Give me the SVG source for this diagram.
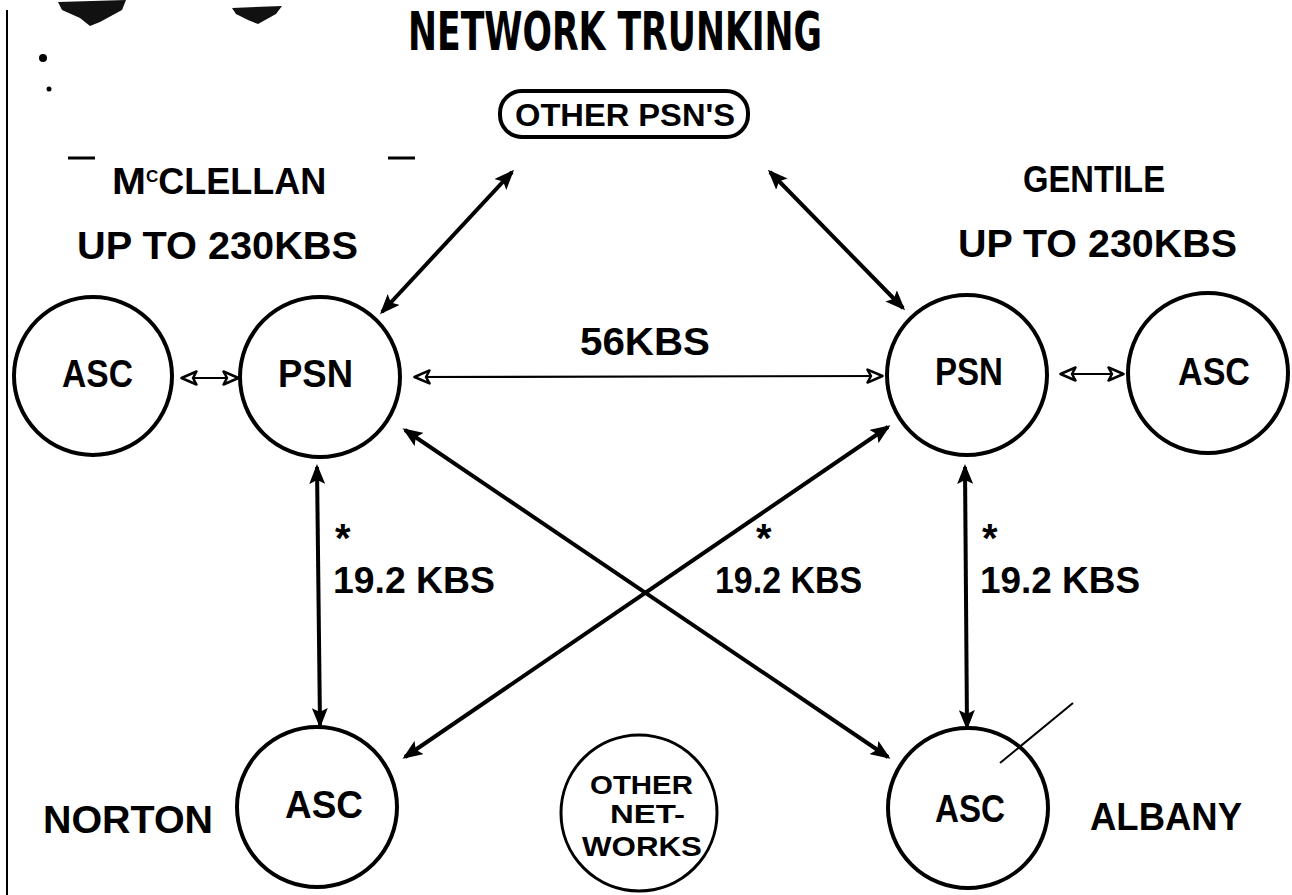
<svg xmlns="http://www.w3.org/2000/svg" width="1292" height="895" viewBox="0 0 1292 895">
<defs>
<marker id="ah" viewBox="0 0 20 16" refX="17" refY="8" markerWidth="20" markerHeight="16" markerUnits="userSpaceOnUse" orient="auto-start-reverse">
<path d="M0,0 L20,8 L0,16 L4,8 z" fill="#000"/>
</marker>
<marker id="oh" viewBox="0 0 18 16" refX="16" refY="8" markerWidth="18" markerHeight="16" markerUnits="userSpaceOnUse" orient="auto-start-reverse">
<path d="M1.5,1.5 L16.5,8 L1.5,14.5 L5,8 z" fill="#fff" stroke="#000" stroke-width="2.5" stroke-linejoin="round"/>
</marker>
<style>
.t{font-family:"Liberation Sans",Arial,sans-serif;font-weight:bold;fill:#000}
.n{fill:none;stroke:#000;stroke-width:4}
.thick{fill:none;stroke:#000;stroke-width:4;marker-start:url(#ah);marker-end:url(#ah)}
.thin{fill:none;stroke:#000;stroke-width:2.2;marker-start:url(#oh);marker-end:url(#oh)}
</style>
</defs>
<rect width="1292" height="895" fill="#fff"/>
<g id="artifacts">
<line x1="7" y1="10" x2="7" y2="895" stroke="#000" stroke-width="2"/>
<path d="M58,2 L126,0 L122,10 L100,22 L90,26 L80,18 L62,10 z" fill="#111"/>
<path d="M232,8 L282,6 L276,14 L258,24 L248,20 L236,14 z" fill="#111"/>
<circle cx="43" cy="58" r="4" fill="#000"/>
<circle cx="49" cy="89" r="2.5" fill="#000"/>
<line x1="68" y1="158" x2="95" y2="158" stroke="#000" stroke-width="3"/>
<line x1="388" y1="158" x2="415" y2="158" stroke="#000" stroke-width="3"/>
<line x1="1000" y1="763" x2="1073" y2="703" stroke="#000" stroke-width="2"/>
</g>
<g id="title">
<text x="408" y="50" font-size="53" font-weight="bold" fill="#000" textLength="414" lengthAdjust="spacingAndGlyphs" style="font-family:'Liberation Sans Narrow','DejaVu Sans Condensed',sans-serif">NETWORK TRUNKING</text>
</g>
<g id="labels">
<text class="t" x="112" y="194" font-size="37"><tspan textLength="34" lengthAdjust="spacingAndGlyphs">M</tspan><tspan font-size="17" dy="-12">C</tspan><tspan dy="12" textLength="168" lengthAdjust="spacingAndGlyphs">CLELLAN</tspan></text>
<text class="t" x="77" y="259" font-size="38" textLength="281" lengthAdjust="spacingAndGlyphs">UP TO 230KBS</text>
<text class="t" x="1023" y="192" font-size="36" textLength="142" lengthAdjust="spacingAndGlyphs">GENTILE</text>
<text class="t" x="958" y="257" font-size="38" textLength="279" lengthAdjust="spacingAndGlyphs">UP TO 230KBS</text>
<text class="t" x="580" y="355" font-size="38" textLength="130" lengthAdjust="spacingAndGlyphs">56KBS</text>
<text class="t" x="335" y="552" font-size="40">*</text>
<text class="t" x="756" y="552" font-size="40">*</text>
<text class="t" x="982" y="552" font-size="40">*</text>
<text class="t" x="333" y="593" font-size="36" textLength="162" lengthAdjust="spacingAndGlyphs">19.2  KBS</text>
<text class="t" x="715" y="593" font-size="36" textLength="147" lengthAdjust="spacingAndGlyphs">19.2 KBS</text>
<text class="t" x="980" y="593" font-size="36" textLength="160" lengthAdjust="spacingAndGlyphs">19.2 KBS</text>
<text class="t" x="43" y="833" font-size="38" textLength="170" lengthAdjust="spacingAndGlyphs">NORTON</text>
<text class="t" x="1090" y="830" font-size="38" textLength="152" lengthAdjust="spacingAndGlyphs">ALBANY</text>
</g>
<g id="connectors">
<line class="thick" x1="512" y1="172" x2="382" y2="312"/>
<line class="thick" x1="770" y1="172" x2="903" y2="308"/>
<line class="thin" x1="415" y1="377" x2="882" y2="376"/>
<line class="thin" x1="182" y1="378" x2="238" y2="378"/>
<line class="thin" x1="1061" y1="374" x2="1123" y2="374"/>
<line class="thick" x1="317" y1="467" x2="320" y2="725"/>
<line class="thick" x1="965" y1="467" x2="967" y2="727"/>
<line class="thick" x1="405" y1="430" x2="888" y2="757"/>
<line class="thick" x1="405" y1="757" x2="888" y2="427"/>
</g>
<g id="other-psns">
<rect x="500" y="91" width="248" height="46" rx="22" class="n"/>
<text class="t" x="515" y="126" font-size="32" textLength="220" lengthAdjust="spacingAndGlyphs">OTHER PSN'S</text>
</g>
<g id="asc-mcclellan">
<circle cx="93" cy="376" r="79" class="n"/>
<text class="t" x="62" y="387" font-size="38" textLength="71" lengthAdjust="spacingAndGlyphs">ASC</text>
</g>
<g id="psn-mcclellan">
<circle cx="320" cy="377" r="80" class="n"/>
<text class="t" x="278" y="387" font-size="38" textLength="75" lengthAdjust="spacingAndGlyphs">PSN</text>
</g>
<g id="psn-gentile">
<circle cx="967" cy="375" r="80" class="n"/>
<text class="t" x="935" y="385" font-size="38" textLength="68" lengthAdjust="spacingAndGlyphs">PSN</text>
</g>
<g id="asc-gentile">
<circle cx="1208" cy="373" r="80" class="n"/>
<text class="t" x="1178" y="385" font-size="38" textLength="72" lengthAdjust="spacingAndGlyphs">ASC</text>
</g>
<g id="asc-norton">
<circle cx="317" cy="807" r="80" class="n"/>
<text class="t" x="285" y="818" font-size="38" textLength="78" lengthAdjust="spacingAndGlyphs">ASC</text>
</g>
<g id="other-networks">
<circle cx="639" cy="813" r="78" fill="none" stroke="#000" stroke-width="3"/>
<text class="t" x="590" y="794" font-size="26" textLength="103" lengthAdjust="spacingAndGlyphs">OTHER</text>
<text class="t" x="610" y="823" font-size="26" textLength="75" lengthAdjust="spacingAndGlyphs">NET-</text>
<text class="t" x="582" y="856" font-size="28" textLength="120" lengthAdjust="spacingAndGlyphs">WORKS</text>
</g>
<g id="asc-albany">
<circle cx="968" cy="808" r="80" class="n"/>
<text class="t" x="935" y="822" font-size="38" textLength="70" lengthAdjust="spacingAndGlyphs">ASC</text>
</g>
</svg>
